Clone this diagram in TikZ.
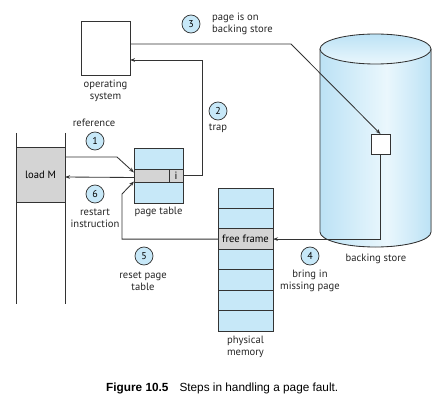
\documentclass[tikz,border=0pt]{standalone}
\usepackage{fontspec}
\setmainfont{PT Sans}
\newfontfamily\capfont{Liberation Sans}
\usetikzlibrary{arrows.meta}

\definecolor{paleblue}{HTML}{C7E8F8}
\definecolor{cellgray}{HTML}{D4D4D4}
\definecolor{ink}{HTML}{333333}
\definecolor{cylA}{HTML}{BCE2F5}
\definecolor{cylB}{HTML}{EAF7FD}
% side of the disk: darker at the rims, light band right of centre
\pgfdeclarehorizontalshading{cylbody}{100bp}{color(0bp)=(cylA); color(25bp)=(cylA); color(55bp)=(cylB); color(75bp)=(cylA); color(100bp)=(cylA)}

\begin{document}
\begin{tikzpicture}[x=1pt,y=1pt,
  line/.style={draw=ink, line width=0.85pt},
  arr/.style={line, -{Stealth[length=5pt,width=3.6pt]}},
  box/.style={draw=ink, line width=0.85pt, inner sep=0pt, outer sep=0pt},
  cell/.style={box, fill=paleblue, minimum width=55pt, minimum height=20.43pt},
  grayrow/.style={box, fill=cellgray},
  stepnum/.style={circle, draw=ink, fill=paleblue, line width=0.75pt, minimum size=18pt, inner sep=0pt, font=\fontsize{10}{10}\selectfont},
  lbl/.style={font=\fontsize{10.6}{12}\selectfont, align=center, text=black!85, inner sep=0pt}
]
\useasboundingbox (0,0) rectangle (444,405);

% operating system
\node[box, fill=white, minimum width=49pt, minimum height=54pt] (os) at (105.5,357) {};
\node[lbl] (oslbl) at (105.5,314) {operating\\system};

% program with the instruction "load M"
\draw[line] (16,272) -- (16,101);
\draw[line] (65,272) -- (65,101);
\node[grayrow, minimum width=49pt, minimum height=55pt, font=\fontsize{10.6}{12}\selectfont] (load) at (40.5,230) {load M};

% page table
\node[box, fill=paleblue, minimum width=49pt, minimum height=21pt] (ptT) at (158.5,246.5) {};
\node[grayrow, minimum width=35pt, minimum height=13pt] (ptM) at (151.5,229.5) {};
\node[grayrow, minimum width=14pt, minimum height=13pt, font=\fontsize{10.6}{10.6}\selectfont] (ptI) at (176,229.5) {i};
\node[box, fill=paleblue, minimum width=49pt, minimum height=21pt] (ptB) at (158.5,212.5) {};
\node[lbl] (ptlbl) at (158.5,193) {page table};

% physical memory
\foreach \i in {1,2,4,5,6,7} {
  \node[cell] (m\i) at (245.5,{217-20.43*(\i-0.5)}) {};
}
\node[cell, fill=cellgray, font=\fontsize{10.6}{10.6}\selectfont] (m3) at (245.5,{217-20.43*2.5}) {free frame};
\node[lbl] (memlbl) at (245.5,58) {physical\\memory};

% backing store
\fill[shading=cylbody] (320,356) -- (320,173) arc[start angle=180,end angle=360,x radius=55.5,y radius=15] -- (431,356) -- cycle;
\draw[line] (320,356) -- (320,173) arc[start angle=180,end angle=360,x radius=55.5,y radius=15] -- (431,356);
\draw[line, top color=cylA, bottom color=cylB] (375.5,356) ellipse [x radius=55.5, y radius=15];
\node[box, fill=white, minimum width=19pt, minimum height=20pt] (sq) at (380.5,261) {};
\node[lbl] (bslbl) at (376,146) {backing store};

% step 1: reference
\draw[arr] ([yshift=18pt]load.east) -- (117,248) -- ([yshift=3pt]ptM.west);
\node[stepnum] (s1) at (95,264) {1};
\node[lbl] (s1lbl) at (94,282) {reference};

% step 2: trap
\draw[arr] (ptI.east) -- (202,229.5) -- (202,345) -- ([yshift=-12pt]os.east);
\node[stepnum] (s2) at (218,294) {2};
\node[lbl] (s2lbl) at (218,277) {trap};

% step 3: page is on backing store
\draw[arr] ([yshift=4pt]os.east) -- (291,361) -- (sq.north);
\node[stepnum] (s3) at (191,381) {3};
\node[lbl, align=left, anchor=west] (s3lbl) at (212,381) {page is on\\backing store};

% step 4: bring in missing page
\draw[arr] (sq.south) -- (sq.south |- m3.east) -- (m3.east);
\node[stepnum] (s4) at (310,149) {4};
\node[lbl] (s4lbl) at (310,124) {bring in\\missing page};

% step 5: reset page table
\draw[arr] (m3.west) -- (122,165.9) -- (122,211) -- ([yshift=-6pt]ptM.west);
\node[stepnum] (s5) at (144,149) {5};
\node[lbl] (s5lbl) at (143,124) {reset page\\table};

% step 6: restart instruction
\draw[arr] ([yshift=-2pt]ptM.west) -- ([yshift=-2pt]load.east);
\node[stepnum] (s6) at (95,211) {6};
\node[lbl] (s6lbl) at (95,187) {restart\\instruction};

% caption
\node[anchor=west, inner sep=0pt, font=\capfont\fontsize{11.8}{14}\selectfont] (cap) at (106,17)
  {\textbf{Figure 10.5}\hspace{11pt}Steps in handling a page fault.};
\end{tikzpicture}
\end{document}
